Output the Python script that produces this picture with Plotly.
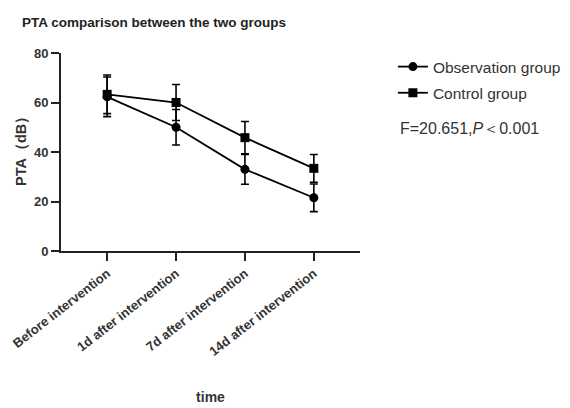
import plotly.graph_objects as go

categories = ["Before intervention", "1d after intervention", "7d after intervention", "14d after intervention"]
obs_mean = [62.3, 50.0, 33.0, 21.5]
obs_sd = [8.0, 7.2, 6.0, 5.6]
ctrl_mean = [63.3, 60.0, 45.8, 33.4]
ctrl_sd = [7.8, 7.3, 6.5, 5.6]
y_ticks = [0, 20, 40, 60, 80]

FONT = "Liberation Sans, Arial, sans-serif"
OFF = 8  # page body margin in the photographed page

L, T, PW, PH = 61 - OFF, 53 - OFF, 299, 198

fig = go.Figure()
fig.add_trace(go.Scatter(
    x=list(range(len(categories))), y=obs_mean, name="Observation group",
    legendgroup="obs", mode="lines+markers",
    line=dict(color="black", width=1.8),
    marker=dict(symbol="circle", size=9, color="black"),
    error_y=dict(type="data", array=obs_sd, color="black", thickness=1.6, width=4),
))
fig.add_trace(go.Scatter(
    x=list(range(len(categories))), y=ctrl_mean, name="Control group",
    legendgroup="ctrl", mode="lines+markers",
    line=dict(color="black", width=1.8),
    marker=dict(symbol="square", size=9, color="black"),
    error_y=dict(type="data", array=ctrl_sd, color="black", thickness=1.6, width=4),
))

fig.update_layout(
    width=570, height=408,
    margin=dict(l=L, r=570 - L - PW, t=T, b=408 - T - PH, autoexpand=False),
    paper_bgcolor="white", plot_bgcolor="white",
    font=dict(family=FONT, color="#222"),
    title=dict(text="PTA comparison between the two groups", x=(22 - OFF) / 570, xanchor="left",
               y=1 - (22 - OFF) / 408, yanchor="middle",
               font=dict(size=13.5, weight="bold", color="#222", family=FONT)),
    legend=dict(x=1.11, y=1.015, xanchor="left", yanchor="top",
                font=dict(size=15.5, color="#333"), itemwidth=30, tracegroupgap=3,
                bgcolor="rgba(0,0,0,0)"),
    showlegend=True,
)
fig.update_xaxes(
    range=[-0.67, 3.67], tickmode="array", tickvals=list(range(len(categories))),
    ticktext=categories, tickangle=-38, ticklabeloverflow="allow",
    showline=True, linecolor="#222", linewidth=1.8, showgrid=False, zeroline=False,
    ticks="outside", ticklen=8, tickwidth=1.8, tickcolor="#222",
    tickfont=dict(size=13, weight="bold", color="#333"),
    title=dict(text="time", font=dict(size=14, weight="bold", color="#333"), standoff=34),
)
fig.update_yaxes(
    range=[0, 80], tickmode="array", tickvals=y_ticks,
    showline=True, linecolor="#222", linewidth=1.8, showgrid=False, zeroline=False,
    ticks="outside", ticklen=8, tickwidth=1.8, tickcolor="#222",
    tickfont=dict(size=13, weight="bold", color="#333"),
)
# y-axis title as a rotated annotation so it can be centred exactly
fig.add_annotation(
    text="<b>PTA（dB）</b>", xref="paper", yref="paper",
    x=(21 - 61) / 299, y=(251 - 148) / 198, xanchor="center", yanchor="middle",
    textangle=-90, showarrow=False, font=dict(size=14.5, color="#333", family=FONT),
)
fig.add_annotation(
    text="F=20.651,<i>P</i>＜0.001", xref="paper", yref="paper",
    x=(398 - 61) / 299, y=(251 - 128) / 198, xanchor="left", yanchor="middle",
    showarrow=False, font=dict(size=16, color="#333", family=FONT),
)

fig.write_html("out.html")
